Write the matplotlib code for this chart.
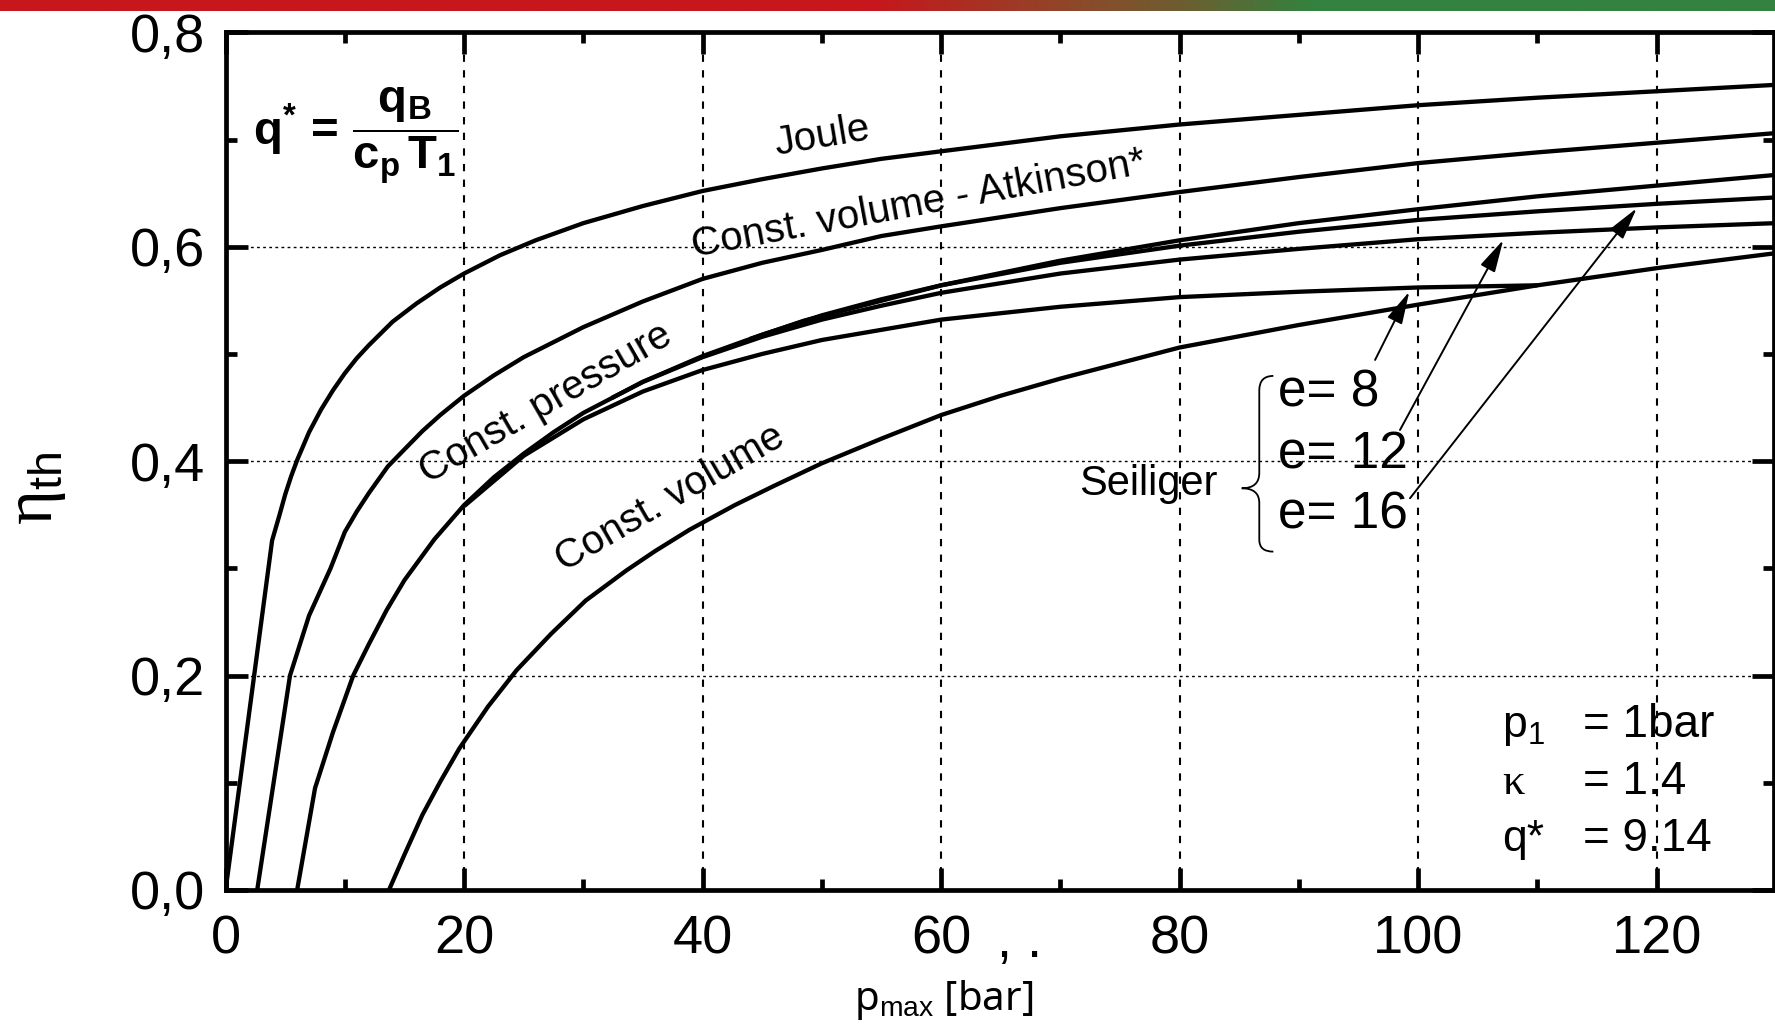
import matplotlib
matplotlib.use("Agg")
import matplotlib.pyplot as plt
from matplotlib import font_manager
from matplotlib.path import Path
from matplotlib.patches import PathPatch
from matplotlib.colors import LinearSegmentedColormap
import numpy as np

# thermal efficiency of ideal cycles over peak pressure (p1 = 1 bar, kappa = 1.4, q* = 9.14)
p_joule = [0, 3.9, 4.5, 5, 5.5, 6, 7, 8, 9, 10, 11, 12, 14, 16, 18, 20, 23, 26, 30, 35, 40, 45,
           50, 55, 60, 70, 80, 90, 100, 110, 120, 130]
eta_joule = [0.0, 0.326, 0.349, 0.369, 0.386, 0.401, 0.427, 0.448, 0.466, 0.482, 0.496, 0.508,
             0.530, 0.547, 0.562, 0.575, 0.592, 0.606, 0.622, 0.638, 0.652, 0.663, 0.673, 0.682,
             0.689, 0.703, 0.714, 0.723, 0.732, 0.739, 0.745, 0.751]

p_atkinson = [2.65, 5.4, 7.0, 8.8, 10, 11, 12, 13.6, 15, 16.5, 18, 20, 22.5, 25, 30, 35, 40, 45,
              50, 55, 60, 70, 80, 90, 100, 110, 120, 130]
eta_atkinson = [0.0, 0.200, 0.256, 0.300, 0.334, 0.353, 0.370, 0.395, 0.411, 0.428, 0.443, 0.461,
                0.480, 0.497, 0.525, 0.549, 0.570, 0.585, 0.597, 0.610, 0.619, 0.636, 0.651,
                0.665, 0.678, 0.688, 0.697, 0.706]

p_pressure = [6.0, 7.5, 9, 10.7, 12, 13.5, 15, 17.5, 20, 22.5, 25, 27.5, 30, 35, 40, 45, 50, 55,
              60, 70, 80, 90, 100, 110, 120, 130]
eta_pressure = [0.0, 0.095, 0.147, 0.200, 0.229, 0.261, 0.289, 0.327, 0.359, 0.385, 0.407, 0.427,
                0.445, 0.474, 0.498, 0.518, 0.536, 0.551, 0.564, 0.587, 0.606, 0.622, 0.635,
                0.647, 0.657, 0.667]

p_volume = [13.7, 15, 16.5, 18, 19.6, 22, 24.4, 27.3, 30.2, 33.6, 36, 38.9, 42.7, 46, 50, 55, 60,
            65, 70, 80, 90, 100, 110, 120, 130]
eta_volume = [0.0, 0.033, 0.070, 0.101, 0.132, 0.171, 0.205, 0.239, 0.270, 0.298, 0.316, 0.336,
              0.359, 0.377, 0.398, 0.421, 0.443, 0.461, 0.477, 0.506, 0.527, 0.546, 0.564, 0.580,
              0.594]

# Seiliger cycle for three compression ratios
p_e8 = [20, 25, 30, 35, 40, 45, 50, 60, 70, 80, 90, 100, 110]
eta_e8 = [0.358, 0.405, 0.439, 0.465, 0.485, 0.500, 0.513, 0.532, 0.544, 0.553, 0.558, 0.562, 0.564]
p_e12 = [32.4, 35, 40, 45, 50, 55, 60, 70, 80, 90, 100, 110, 120, 130]
eta_e12 = [0.459, 0.474, 0.497, 0.516, 0.532, 0.545, 0.557, 0.575, 0.588, 0.598, 0.607, 0.613,
           0.618, 0.622]
p_e16 = [44, 48.5, 60, 70, 80, 90, 100, 110, 120, 130]
eta_e16 = [0.514, 0.531, 0.564, 0.585, 0.601, 0.614, 0.625, 0.633, 0.640, 0.646]

xticks = [0, 20, 40, 60, 80, 100, 120]
xtick_labels = ["0", "20", "40", "60", "80", "100", "120"]
yticks = [0.0, 0.2, 0.4, 0.6, 0.8]
ytick_labels = ["0,0", "0,2", "0,4", "0,6", "0,8"]

names = {f.name for f in font_manager.fontManager.ttflist}
if "Liberation Sans Narrow" in names:
    narrow, lbl_size = "Liberation Sans Narrow", 34
else:
    narrow, lbl_size = "Liberation Sans", 29

plt.rcParams["font.family"] = ["Liberation Sans", "DejaVu Sans"]
plt.rcParams["mathtext.fontset"] = "custom"
plt.rcParams["mathtext.rm"] = "Liberation Sans"
plt.rcParams["mathtext.it"] = "Liberation Sans:italic"
plt.rcParams["mathtext.bf"] = "Liberation Sans:bold"

W, H = 1775, 1024
fig = plt.figure(figsize=(W / 100, H / 100), dpi=100)
ax = fig.add_axes([225.6 / W, 1 - 890 / H, 1547.9 / W, 857.7 / H])

# red-green strip on top
bar = fig.add_axes([0, 1 - 11 / H, 1, 11 / H])
cmap = LinearSegmentedColormap.from_list(
    "strip", [(0, "#c8161d"), (0.49, "#c8161d"), (0.61, "#8b4a2b"), (0.67, "#6b5f31"),
              (0.74, "#33823f"), (1, "#33823f")])
bar.imshow(np.linspace(0, 1, 600)[None, :], aspect="auto", cmap=cmap, extent=[0, 1, 0, 1])
bar.axis("off")

lw = 3.1
for px, py in [(p_joule, eta_joule), (p_atkinson, eta_atkinson), (p_pressure, eta_pressure),
               (p_volume, eta_volume), (p_e8, eta_e8), (p_e12, eta_e12), (p_e16, eta_e16)]:
    ax.plot(px, py, color="black", lw=lw, solid_joinstyle="round", solid_capstyle="butt", zorder=3)

ax.set_xlim(0, 129.8)
ax.set_ylim(0, 0.8)
ax.set_xticks(xticks, labels=xtick_labels)
ax.set_yticks(yticks, labels=ytick_labels)
ax.set_xticks(np.arange(10, 130, 20), minor=True)
ax.set_yticks([0.1, 0.3, 0.5, 0.7], minor=True)
ax.tick_params(which="both", direction="in", top=True, right=True, width=3.4, labelsize=39)
ax.tick_params(which="major", length=16)
ax.tick_params(which="minor", length=8)
ax.tick_params(axis="x", pad=18)
ax.tick_params(axis="y", pad=15)
for s in ax.spines.values():
    s.set_linewidth(3.4)

ax.set_axisbelow(True)
ax.xaxis.grid(True, which="major", color="black", lw=1.5, ls=(0, (3.5, 4)))
ax.yaxis.grid(True, which="major", color="black", lw=1.0, ls=(0, (2, 2.4)))

# curve labels
ax.text(50.0, 0.703, "Joule", rotation=9.5, ha="center", va="center", rotation_mode="anchor",
        fontsize=lbl_size, family=narrow)
ax.text(58.15, 0.640, "Const. volume - Atkinson*", rotation=10.5, ha="center", va="center",
        rotation_mode="anchor", fontsize=lbl_size, family=narrow)
ax.text(26.83, 0.4534, "Const. pressure", rotation=30, ha="center", va="center",
        rotation_mode="anchor", fontsize=lbl_size, family=narrow)
ax.text(37.27, 0.3657, "Const. volume", rotation=30, ha="center", va="center",
        rotation_mode="anchor", fontsize=lbl_size, family=narrow)

# Seiliger group with brace and arrows
ax.text(77.35, 0.3685, "Seiliger", ha="center", va="baseline", fontsize=lbl_size + 1, family=narrow)
for lab, yb in [("e= 8", 0.4508), ("e= 12", 0.3934), ("e= 16", 0.3374)]:
    ax.text(88.28, yb, lab, ha="left", va="baseline", fontsize=37)

xe, xs, xt = 87.86, 86.68, 85.21
top, mid, bot = 0.4795, 0.3747, 0.3156
verts = [(xe, top), (xs, top), (xs, top - 0.0135), (xs, mid + 0.0143), (xs, mid), (xt, mid),
         (xs, mid), (xs, mid - 0.0137), (xs, bot + 0.0109), (xs, bot), (xe, bot)]
codes = [Path.MOVETO, Path.CURVE3, Path.CURVE3, Path.LINETO, Path.CURVE3, Path.CURVE3,
         Path.CURVE3, Path.CURVE3, Path.LINETO, Path.CURVE3, Path.CURVE3]
ax.add_patch(PathPatch(Path(verts, codes), fill=False, lw=1.3, color="black"))

arrows = [((96.39, 0.4944), (99.26, 0.5581)),
          ((98.48, 0.4291), (107.14, 0.6063)),
          ((99.32, 0.3654), (118.33, 0.6359))]
for tail, tip in arrows:
    ax.annotate("", xy=tip, xytext=tail,
                arrowprops=dict(arrowstyle="-|>,head_length=1.0,head_width=0.25", lw=1.4,
                                color="black", shrinkA=0, shrinkB=0, mutation_scale=20))

# definition of q*
ax.text(2.3, 0.7035, r"$\mathbf{q^{*}\,=\,\dfrac{q_{B}}{c_{p}\,T_{1}}}$", ha="left", va="center",
        fontsize=34)

# boundary conditions
ax.text(107.03, 0.1429, r"p$_{1}$", ha="left", va="baseline", fontsize=32)
ax.text(107.03, 0.0899, "κ", ha="left", va="baseline", fontsize=32, family="Liberation Serif")
ax.text(107.03, 0.0364, "q*", ha="left", va="baseline", fontsize=32)
ax.text(113.83, 0.1429, "= 1bar", ha="left", va="baseline", fontsize=33)
ax.text(113.83, 0.0899, "= 1.4", ha="left", va="baseline", fontsize=33)
ax.text(113.83, 0.0364, "= 9.14", ha="left", va="baseline", fontsize=33)

ax.text(64.66, -0.0622, ", .", ha="left", va="baseline", fontsize=39, clip_on=False)

ax.text(0.464, -0.14, r"p$_{\mathrm{max}}$ [bar]", transform=ax.transAxes, ha="center",
        va="baseline", fontsize=29, family="Noto Sans")
ax.text(-0.1218, 0.4687, r"η$_{\mathrm{th}}$", transform=ax.transAxes, ha="center", va="center",
        rotation=90, fontsize=48, family="Liberation Serif")

fig.savefig("out.png", dpi=100)
